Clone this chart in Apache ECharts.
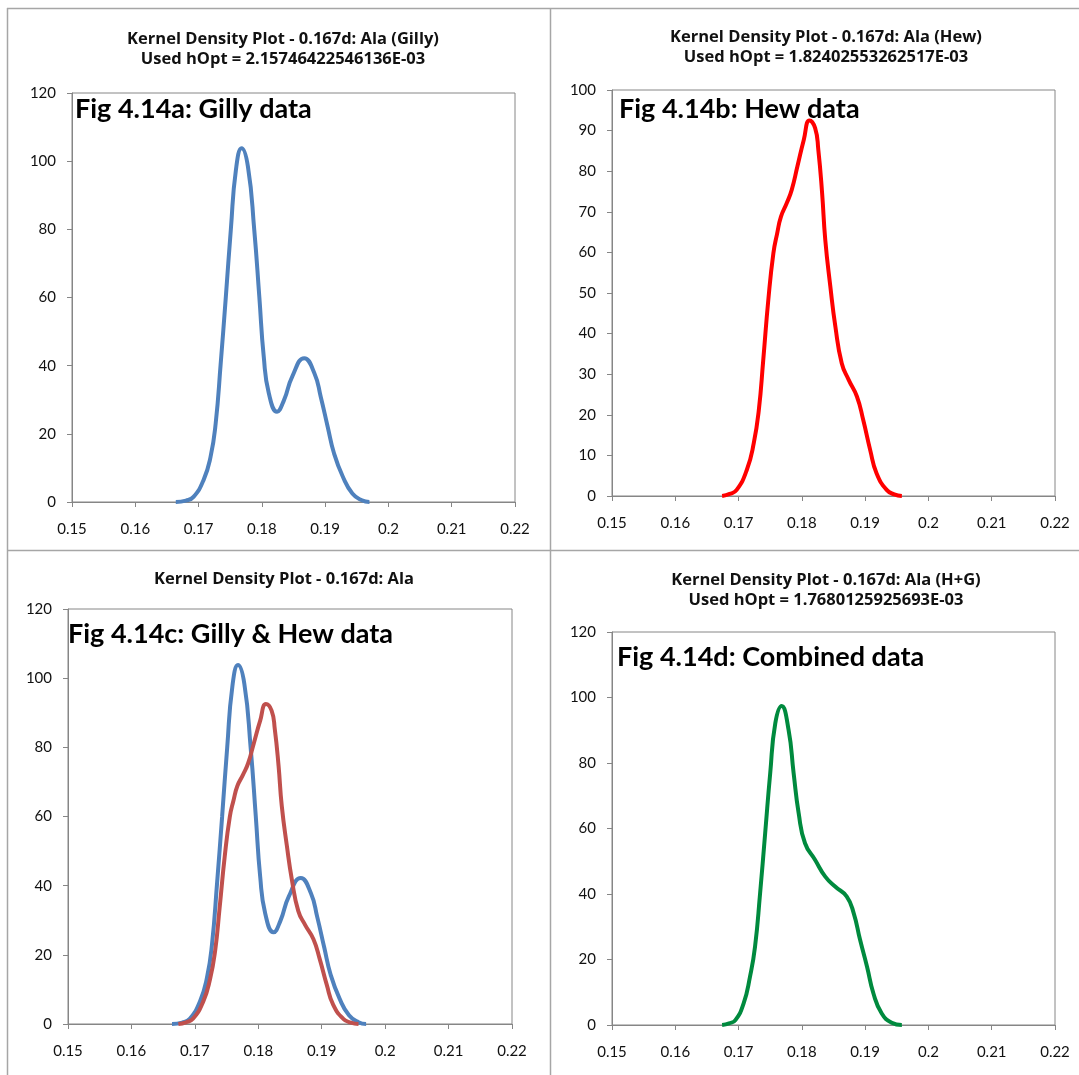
<!DOCTYPE html>
<html>
<head>
<meta charset="utf-8">
<script src="https://cdn.jsdelivr.net/npm/echarts@6/dist/echarts.min.js"></script>
<style>
html,body{margin:0;padding:0;background:#fff;}
#chart{width:1079px;height:1075px;}
</style>
</head>
<body>
<div id="chart"></div>
<script>
// ---- Data ----
const xTickLabels = ['0.15','0.16','0.17','0.18','0.19','0.2','0.21','0.22'];
const yTicksA = [0,20,40,60,80,100,120];
const yTicksB = [0,10,20,30,40,50,60,70,80,90,100];

const gillyX = [0.1664,0.1680,0.1692,0.1708,0.1719,0.1727,0.1735,0.1743,0.1751,0.1759,0.1768,0.1778,0.1788,0.1796,0.1803,0.1811,0.1824,0.1835,0.1848,0.1867,0.1883,0.1893,0.1904,0.1914,0.1928,0.1943,0.1958,0.1970];
const gillyY = [0,0.4,1.5,6.5,13.3,23,40.7,60,80,97.4,103.8,98.4,79.8,60.2,42.6,31.9,26.5,29.9,36.8,42.2,37.8,30.9,22.1,14.3,7.4,2.5,0.5,0];

const hewX = [0.1674,0.1686,0.1697,0.1713,0.1724,0.1732,0.1739,0.1747,0.1755,0.1761,0.1767,0.1776,0.1784,0.1793,0.1803,0.1812,0.1821,0.1826,0.1832,0.1837,0.1845,0.1853,0.1863,0.1874,0.1887,0.1897,0.1908,0.1918,0.1934,0.1946,0.1958];
const hewY = [0,0.5,1.5,6.4,13,21.2,33.5,48.3,59.8,64.7,68.8,72.1,75.4,81.2,87.7,92.5,90.6,85.3,74.6,63.1,51.6,41.7,32.7,28.6,24.5,18.7,11.3,5.6,1.5,0.4,0];

const combX = [0.1674,0.1685,0.1695,0.1708,0.1718,0.1726,0.1734,0.1742,0.1750,0.1758,0.1768,0.1779,0.1787,0.1795,0.1805,0.1821,0.1837,0.1853,0.1871,0.1882,0.1892,0.1903,0.1913,0.1926,0.1942,0.1958];
const combY = [0,0.5,1.5,6.6,14.7,23.9,40.2,58.5,76.9,92.1,97.4,90.1,76.9,64.6,55.5,50.4,45.3,42.2,39.2,34.1,26,17.8,9.7,3.6,0.7,0];

const titles = [
  'Kernel Density Plot - 0.167d: Ala (Gilly)\nUsed hOpt = 2.15746422546136E-03',
  'Kernel Density Plot - 0.167d: Ala (Hew)\nUsed hOpt = 1.82402553262517E-03',
  'Kernel Density Plot - 0.167d: Ala',
  'Kernel Density Plot - 0.167d: Ala (H+G)\nUsed hOpt = 1.7680125925693E-03'
];
const figLabels = ['Fig 4.14a: Gilly data','Fig 4.14b: Hew data','Fig 4.14c: Gilly & Hew data','Fig 4.14d: Combined data'];

// ---- Build ----
const zip = (xs, ys) => xs.map((x, i) => [x, ys[i]]);
const FONT = 'Lato';
const TFONT = 'Open Sans';
const AX = '#868686';

const grids = [
  {left:72, top:93, width:443, height:409},
  {left:612, top:90, width:443, height:406},
  {left:68, top:609, width:444, height:415},
  {left:612, top:632, width:443, height:393}
].map(g => Object.assign({show:true, borderColor:AX, borderWidth:1, backgroundColor:'#fff'}, g));

const xAxes = grids.map((g, i) => ({
  type:'value', gridIndex:i, min:0.15, max:0.22, interval:0.01,
  axisLine:{show:true, onZero:false, lineStyle:{color:AX, width:1}},
  axisTick:{show:true, inside:false, length:5, lineStyle:{color:AX}},
  splitLine:{show:false},
  axisLabel:{margin:20, color:'#111', fontFamily:FONT, fontSize:15,
    formatter: v => { const k = Math.round((v - 0.15) / 0.01); return xTickLabels[k] !== undefined ? xTickLabels[k] : ''; }}
}));

const yTickSets = [yTicksA, yTicksB, yTicksA, yTicksA];
const yAxes = grids.map((g, i) => {
  const t = yTickSets[i];
  return {
    type:'value', gridIndex:i, min:t[0], max:t[t.length-1], interval:t[1]-t[0],
    axisLine:{show:true, lineStyle:{color:AX, width:1}},
    axisTick:{show:true, inside:false, length:5, lineStyle:{color:AX}},
    splitLine:{show:false},
    axisLabel:{margin:16, color:'#111', fontFamily:FONT, fontSize:15}
  };
});

const lineS = (name, xi, data, color) => ({
  name, type:'line', xAxisIndex:xi, yAxisIndex:xi, data, showSymbol:false, symbol:'none',
  smooth:0.5, lineStyle:{color, width:4}, z:3, animation:false
});

const series = [
  lineS('Gilly', 0, zip(gillyX, gillyY), '#4F81BD'),
  lineS('Hew', 1, zip(hewX, hewY), '#FF0000'),
  lineS('Gilly', 2, zip(gillyX, gillyY), '#4F81BD'),
  lineS('Hew', 2, zip(hewX, hewY), '#C0504D'),
  lineS('Combined', 3, zip(combX, combY), '#008A3E')
];

const titleCenters = [[278, 24], [821, 22], [279, 564], [821, 565]];
const figPos = [[70, 104], [614, 104], [63, 629], [612, 652]];

const titleComps = titles.map((t, i) => ({
  text:t, left:titleCenters[i][0], top:titleCenters[i][1], textAlign:'center',
  textStyle:{fontFamily:TFONT, fontSize:16.5, fontWeight:'bold', color:'#111', lineHeight:20.5}
}));
const figComps = figLabels.map((t, i) => ({
  text:t, left:figPos[i][0], top:figPos[i][1] - 16,
  textStyle:{fontFamily:FONT, fontSize:27, fontWeight:'bold', color:'#000', lineHeight:32}
}));

const chart = echarts.init(document.getElementById('chart'), null, {renderer:'canvas'});
chart.setOption({
  animation:false,
  backgroundColor:'#fff',
  title: titleComps.concat(figComps),
  grid: grids,
  xAxis: xAxes,
  yAxis: yAxes,
  series: series,
  graphic: [
    {type:'line', shape:{x1:7, y1:8.5, x2:1079, y2:8.5}, style:{stroke:'#a6a6a6', lineWidth:1.5}, silent:true},
    {type:'line', shape:{x1:7.5, y1:8, x2:7.5, y2:1075}, style:{stroke:'#a6a6a6', lineWidth:1.5}, silent:true},
    {type:'line', shape:{x1:550.5, y1:8, x2:550.5, y2:1075}, style:{stroke:'#a6a6a6', lineWidth:1.5}, silent:true},
    {type:'line', shape:{x1:7, y1:550.5, x2:1079, y2:550.5}, style:{stroke:'#a6a6a6', lineWidth:1.5}, silent:true}
  ]
});
</script>
</body>
</html>
